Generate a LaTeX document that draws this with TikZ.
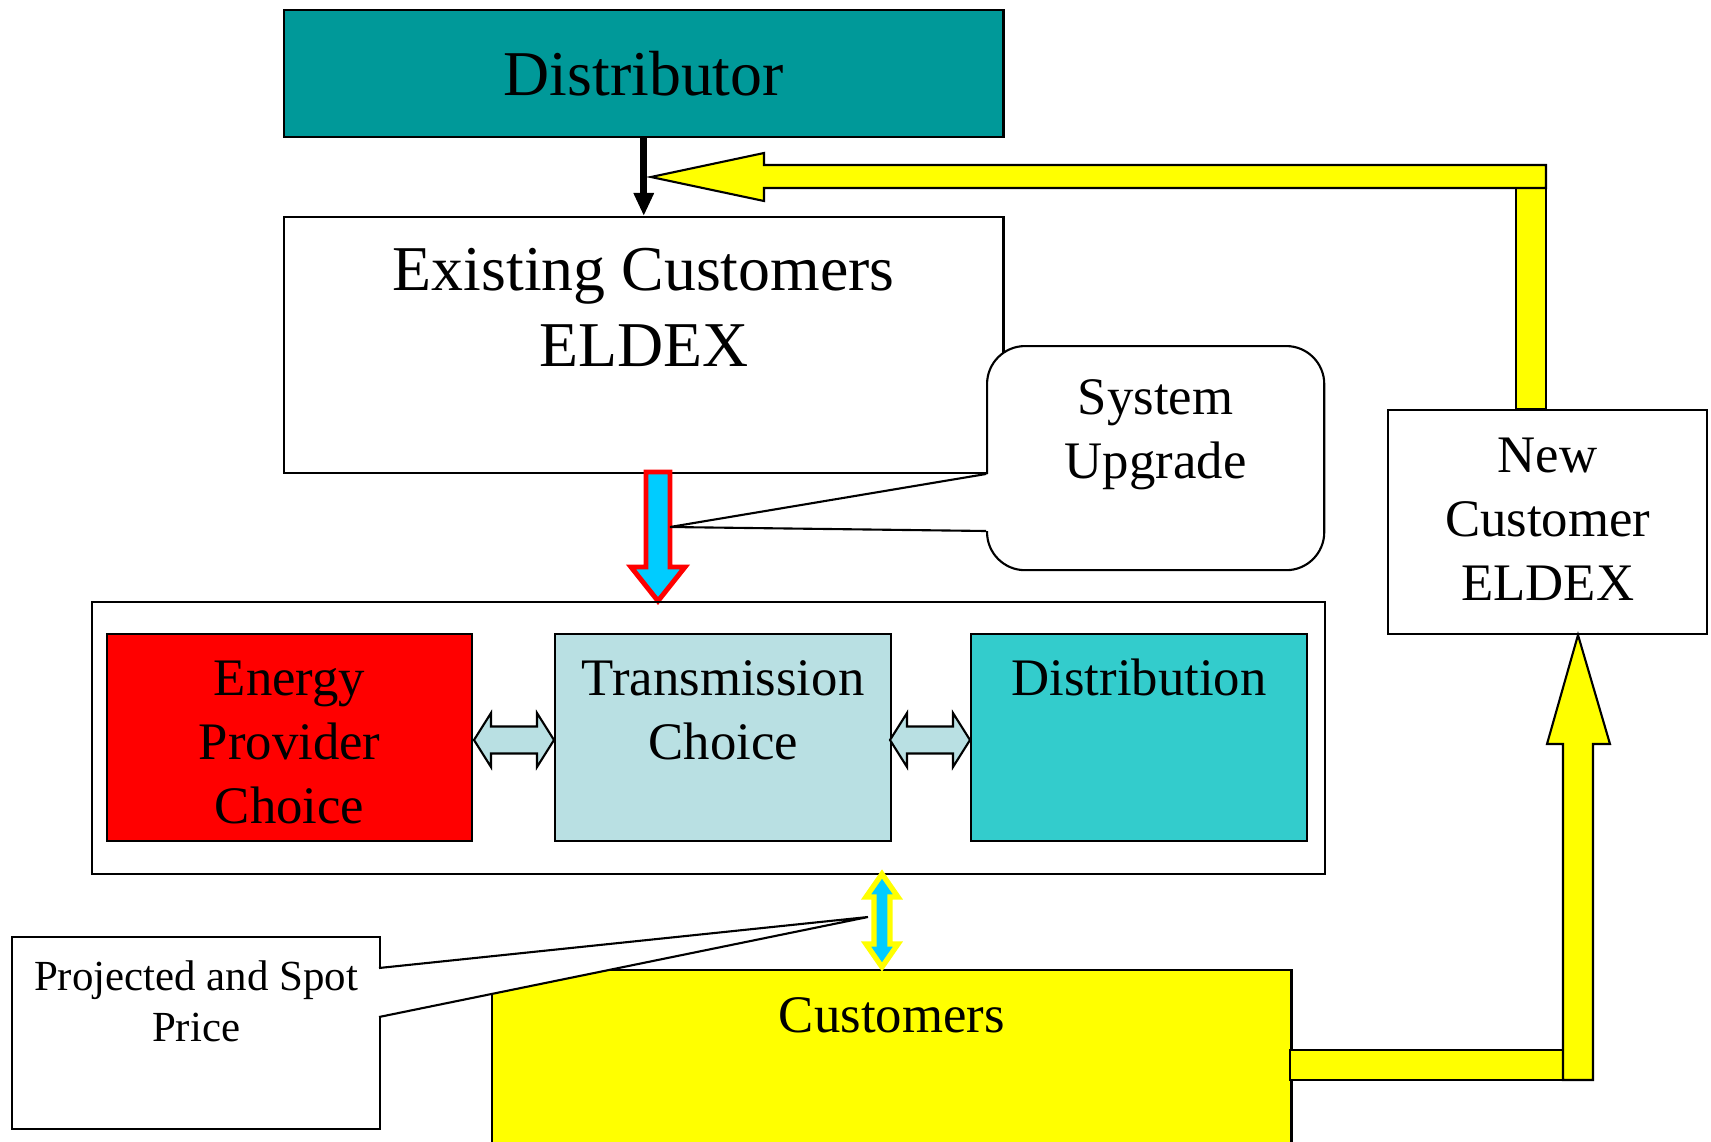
\documentclass[tikz,border=0pt]{standalone}
\usepackage{fontspec}
\setmainfont{Liberation Serif}
\usetikzlibrary{arrows.meta}
\newcommand{\boxtext}[4]{\parbox[t][#2][t]{#1}{\centering\rule{0pt}{#3}#4}}

\begin{document}
\begin{tikzpicture}[x=0.01cm,y=-0.01cm,
        box/.style={draw=black,line width=0.6pt,inner sep=0pt,anchor=north west},
        big/.style={font=\fontsize{18.15}{21.6}\selectfont},
        mid/.style={font=\fontsize{15}{18.2}\selectfont},
        small/.style={font=\fontsize{12.2}{14.5}\selectfont},
        fat/.style={draw=black,line width=0.6pt,line join=miter}]
        %colours
        \definecolor{tealbox}{RGB}{0,153,153}
        \definecolor{lightbox}{RGB}{185,224,227}
        \definecolor{distbox}{RGB}{51,204,204}
        \definecolor{skyfill}{RGB}{0,204,255}
        \definecolor{yel}{RGB}{255,255,0}
        \definecolor{redbox}{RGB}{255,0,0}

        \useasboundingbox (0,0) rectangle (1711,1142);
        \clip (0,0) rectangle (1711,1142);

        % Top boxes
        \node[box,fill=tealbox,big,minimum width=7.19cm,minimum height=1.27cm] (distrib) at (283,9) {Distributor};
        \node[box,fill=white,big] (existing) at (283,216) {\boxtext{7.19cm}{2.56cm}{0.73cm}{Existing Customers\\ELDEX}};

        % yellow feedback arrow, top
        \draw[fat,fill=yel] (1516,188) rectangle (1546,409);
        \draw[fat,fill=yel] (1546,165) -- (764,165) -- (764,153) -- (651,177) -- (764,201) -- (764,188) -- (1546,188) -- cycle;

        \draw[line width=2.1pt,-{Triangle[length=2.3mm,width=1.9mm]}] (distrib.south) -- (existing.north);

        % down arrow, red outline
        \draw[line width=1.4pt,draw=redbox,fill=skyfill,line join=miter] (646,472) -- (670,472) -- (670,567) -- (685,567) -- (658,601) -- (631,567) -- (646,567) -- cycle;
        \coordinate (uptip) at (670,527);

        % System upgrade callout
        \node[box,fill=white,rounded corners=0.38cm,mid] (upgrade) at (986,345) {\boxtext{3.37cm}{2.24cm}{0.68cm}{System\\Upgrade}};
        \fill[white] (989,474) -- (uptip) -- (989,531) -- cycle;
        \draw[line width=0.6pt] (986,474) -- (uptip) -- (986,531);

        % Market choices
        \node[box,minimum width=12.32cm,minimum height=2.72cm] (market) at (91,601) {};
        \node[box,fill=redbox,mid] (energy) at (106,633) {\boxtext{3.65cm}{2.07cm}{0.61cm}{Energy\\Provider\\Choice}};
        \node[box,fill=lightbox,mid] (trans) at (554,633) {\boxtext{3.36cm}{2.07cm}{0.61cm}{Transmission\\Choice}};
        \node[box,fill=distbox,mid] (dist) at (970,633) {\boxtext{3.36cm}{2.07cm}{0.61cm}{Distribution}};
        \foreach \xa/\xb in {474/554,890/970}
            \draw[fat,fill=lightbox] (\xa,740) -- (\xa+17,713) -- (\xa+17,726.5) -- (\xb-17,726.5) -- (\xb-17,713) -- (\xb,740) -- (\xb-17,767) -- (\xb-17,753.5) -- (\xa+17,753.5) -- (\xa+17,767) -- cycle;

        % New customer box
        \node[box,fill=white,mid] (newcust) at (1387,409) {\boxtext{3.19cm}{2.24cm}{0.62cm}{New\\Customer\\ELDEX}};

        % Customers and yellow arrow up
        \node[box,fill=yel,mid] (customers) at (491,969) {\boxtext{7.99cm}{2.0cm}{0.62cm}{Customers}};
        \draw[fat,fill=yel] (1290,1050) rectangle (1563,1080);
        \draw[fat,fill=yel] (1563,1080) -- (1563,744) -- (1547,744) -- (1578,635) -- (1610,744) -- (1593,744) -- (1593,1080) -- cycle;

        % double arrow, market to customers
        \draw[line width=1.5pt,draw=yel,fill=skyfill,line join=miter] (882,874) -- (898,897) -- (890,897) -- (890,944) -- (898,944) -- (882,967) -- (866,944) -- (874,944) -- (874,897) -- (866,897) -- cycle;

        % Price callout
        \node[box,fill=white,small] (price) at (11,936) {\boxtext{3.68cm}{1.92cm}{0.53cm}{Projected and Spot\\Price}};
        \coordinate (pricetip) at (868,917);
        \fill[white] (376,968) -- (pricetip) -- (376,1017) -- cycle;
        \draw[line width=0.6pt] (379,968) -- (pricetip) -- (379,1017);
    \end{tikzpicture}
\end{document}
